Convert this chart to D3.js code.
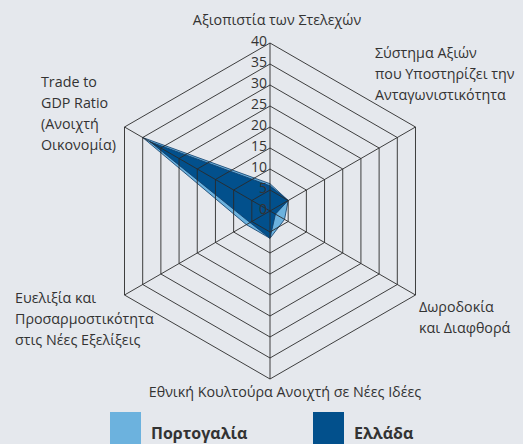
<!DOCTYPE html>
<html>
<head>
<meta charset="utf-8">
<script src="https://cdn.jsdelivr.net/npm/d3@7"></script>
<style>
  body { margin: 0; background: #e5e8ed; }
  svg { display: block; }
  text { font-family: "Open Sans", sans-serif; fill: #333; }
</style>
</head>
<body>
<svg width="523" height="444"></svg>
<script>
// axes, clockwise from the top
var axes = [
    ["Αξιοπιστία των Στελεχών"],
    ["Σύστημα Αξιών", "που Υποστηρίζει την", "Ανταγωνιστικότητα"],
    ["Δωροδοκία", "και Διαφθορά"],
    ["Εθνική Κουλτούρα Ανοιχτή σε Νέες Ιδέες"],
    ["Ευελιξία και", "Προσαρμοστικότητα", "στις Νέες Εξελίξεις"],
    ["Trade to", "GDP Ratio", "(Ανοιχτή", "Οικονομία)"]
];
var portugal = [6.5, 5, 4, 6.5, 6.5, 35];
var greece = [6, 5, 1.5, 6.5, 5.5, 33];
var ticks = [0, 5, 10, 15, 20, 25, 30, 35, 40];
var seriesNames = ["Πορτογαλία", "Ελλάδα"];
var seriesColors = ["#6cb2de", "#02508c"];

var svg = d3.select("svg");
var cx = 270, cy = 211;
var r = d3.scaleLinear().domain([0, 40]).range([0, 168]);
var angle = d3.scaleLinear().domain([0, axes.length]).range([0, 2 * Math.PI]);

function pt(i, v) {
    var a = angle(i);
    return [cx + r(v) * Math.sin(a), cy - r(v) * Math.cos(a)];
}

var line = d3.line().curve(d3.curveLinearClosed);

// series polygons
var series = [portugal, greece];
svg.append("g").selectAll("path")
    .data(series)
    .enter().append("path")
    .attr("d", function(d) { return line(d.map(function(v, i) { return pt(i, v); })); })
    .style("fill", function(d, i) { return seriesColors[i]; })
    .style("stroke", "#0d3a66")
    .style("stroke-width", 0.8);

// grid rings and spokes on top
var grid = svg.append("g").style("fill", "none").style("stroke", "#2a2a2a").style("stroke-width", 0.9);
grid.selectAll("path.ring")
    .data(ticks.slice(1))
    .enter().append("path")
    .attr("class", "ring")
    .attr("d", function(t) { return line(axes.map(function(a, i) { return pt(i, t); })); });
grid.selectAll("line")
    .data(axes)
    .enter().append("line")
    .attr("x1", cx).attr("y1", cy)
    .attr("x2", function(d, i) { return pt(i, 40)[0]; })
    .attr("y2", function(d, i) { return pt(i, 40)[1]; });

// tick labels
svg.append("g").selectAll("text")
    .data(ticks)
    .enter().append("text")
    .attr("x", cx - 3)
    .attr("y", function(t) { return cy - r(t) + 3; })
    .attr("text-anchor", "end")
    .style("font-size", "14px")
    .text(function(t) { return t; });

// axis labels
var labelPos = [
    {x: 277, y: 25, anchor: "middle"},
    {x: 375, y: 58, anchor: "start"},
    {x: 419, y: 312, anchor: "start"},
    {x: 285, y: 397, anchor: "middle"},
    {x: 15, y: 303, anchor: "start"},
    {x: 41, y: 87, anchor: "start"}
];
var labels = svg.append("g").selectAll("text")
    .data(axes)
    .enter().append("text")
    .attr("x", function(d, i) { return labelPos[i].x; })
    .attr("y", function(d, i) { return labelPos[i].y; })
    .attr("text-anchor", function(d, i) { return labelPos[i].anchor; })
    .style("font-size", "14.3px");
labels.selectAll("tspan")
    .data(function(d) { return d; })
    .enter().append("tspan")
    .attr("x", function() { return d3.select(this.parentNode).attr("x"); })
    .attr("dy", function(d, j) { return j ? 21 : 0; })
    .text(function(d) { return d; });

// legend
var legendX = [110, 313];
var legend = svg.append("g").selectAll("g")
    .data(seriesNames)
    .enter().append("g")
    .attr("transform", function(d, i) { return "translate(" + legendX[i] + ",412)"; });
legend.append("rect")
    .attr("width", 31).attr("height", 32)
    .style("fill", function(d, i) { return seriesColors[i]; });
legend.append("text")
    .attr("x", 41).attr("y", 27)
    .style("font-size", "16px")
    .style("font-weight", "bold")
    .text(function(d) { return d; });
</script>
</body>
</html>
